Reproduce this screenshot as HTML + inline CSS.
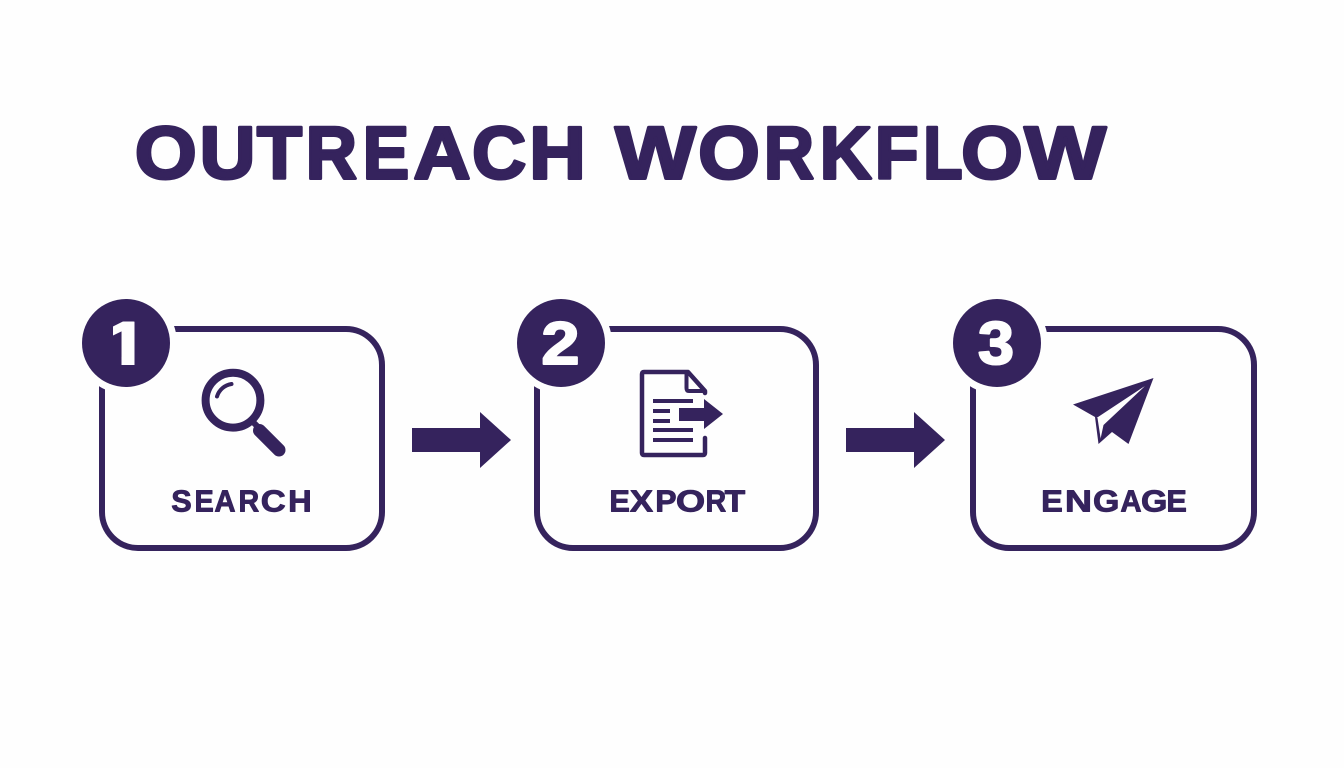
<!DOCTYPE html>
<html><head><meta charset="utf-8"><style>
html,body{margin:0;padding:0;background:#fefefe;width:1344px;height:768px;overflow:hidden}
svg{display:block}
text{font-family:"Liberation Sans",sans-serif;font-weight:700;fill:#35235d;stroke:#35235d;stroke-linejoin:round}
.t text{font-size:74px;stroke-width:3px}
.l text{font-size:31px;stroke-width:.9px}
.d text{font-size:60px;stroke-width:2px;fill:#fefefe;stroke:#fefefe}
</style></head><body>
<svg width="1344" height="768" viewBox="0 0 1344 768" xmlns="http://www.w3.org/2000/svg">
<defs><clipPath id="c1"><polygon points="113,310 134.5,310 134.5,366 121.5,366 121.5,345 113,345"/></clipPath></defs>
<rect width="1344" height="768" fill="#fefefe"/>
<g class="t">
<text x="134.9" y="178.5" textLength="61.8" lengthAdjust="spacingAndGlyphs">O</text>
<text x="199.6" y="178.5" textLength="55.8" lengthAdjust="spacingAndGlyphs">U</text>
<text x="257" y="178.5" textLength="45" lengthAdjust="spacingAndGlyphs">T</text>
<text x="305.8" y="178.5" textLength="51.2" lengthAdjust="spacingAndGlyphs">R</text>
<text x="362.8" y="178.5" textLength="46.4" lengthAdjust="spacingAndGlyphs">E</text>
<text x="413.5" y="178.5" textLength="57" lengthAdjust="spacingAndGlyphs">A</text>
<text x="472.1" y="178.5" textLength="54.1" lengthAdjust="spacingAndGlyphs">C</text>
<text x="529.3" y="178.5" textLength="56.5" lengthAdjust="spacingAndGlyphs">H</text>
<text x="615.3" y="178.5" textLength="80.5" lengthAdjust="spacingAndGlyphs">W</text>
<text x="698.3" y="178.5" textLength="61.5" lengthAdjust="spacingAndGlyphs">O</text>
<text x="763.9" y="178.5" textLength="50.1" lengthAdjust="spacingAndGlyphs">R</text>
<text x="819.7" y="178.5" textLength="51.9" lengthAdjust="spacingAndGlyphs">K</text>
<text x="874.7" y="178.5" textLength="43.9" lengthAdjust="spacingAndGlyphs">F</text>
<text x="923.2" y="178.5" textLength="39.3" lengthAdjust="spacingAndGlyphs">L</text>
<text x="961.3" y="178.5" textLength="61.5" lengthAdjust="spacingAndGlyphs">O</text>
<text x="1024.5" y="178.5" textLength="81.5" lengthAdjust="spacingAndGlyphs">W</text>
</g>
<g fill="none" stroke="#35235d" stroke-width="6">
<rect x="102" y="329" width="280" height="219" rx="36"/>
<rect x="537" y="329" width="279" height="219" rx="36"/>
<rect x="973" y="329" width="281" height="219" rx="36"/>
</g>
<g fill="#fefefe"><circle cx="126" cy="343" r="51"/><circle cx="561" cy="343" r="51"/><circle cx="997" cy="343" r="51"/></g>
<g fill="#35235d"><circle cx="126" cy="343" r="44"/><circle cx="561" cy="343" r="44"/><circle cx="997" cy="343" r="44"/></g>
<g class="d">
<g clip-path="url(#c1)"><text x="104.6" y="364" textLength="43.4" lengthAdjust="spacingAndGlyphs">1</text></g>
<text x="541.4" y="364" textLength="38.1" lengthAdjust="spacingAndGlyphs">2</text>
<text x="978" y="364" textLength="36" lengthAdjust="spacingAndGlyphs">3</text>
</g>
<polygon fill="#35235d" points="412,428 480,428 480,412 511,440 480,468 480,452 412,452"/>
<polygon fill="#35235d" points="846,428 914,428 914,412 945,440 914,468 914,452 846,452"/>
<!-- magnifier -->
<circle cx="233" cy="400.2" r="27.4" fill="none" stroke="#35235d" stroke-width="8"/>
<path d="M217 396.5 A18 18 0 0 1 231.5 384" fill="none" stroke="#35235d" stroke-width="4" stroke-linecap="round"/>
<line x1="252" y1="421" x2="260" y2="429" stroke="#35235d" stroke-width="6"/>
<line x1="259.5" y1="430.5" x2="279" y2="450" stroke="#35235d" stroke-width="13" stroke-linecap="round"/>
<!-- document -->
<path d="M705 393 V391 L688 372 H644 Q642 372 642 374 V453 Q642 455 644 455 H703 Q705 455 705 453 V438" fill="none" stroke="#35235d" stroke-width="4.5" stroke-linecap="round" stroke-linejoin="round"/>
<path d="M686.5 373 V388 Q686.5 391 689 391 H705" fill="none" stroke="#35235d" stroke-width="4"/>
<g fill="#35235d">
<rect x="653" y="399" width="40" height="4"/>
<rect x="653" y="409" width="17" height="4"/>
<rect x="653" y="419" width="17" height="4"/>
<rect x="653" y="428" width="40" height="4"/>
<rect x="653" y="438" width="40" height="4"/>
<polygon points="679,408 704,408 704,399 723,414 704,429 704,421 679,421"/>
</g>
<!-- plane -->
<polygon fill="#35235d" points="1153.5,378 1073,404.5 1095,417 1098.5,444 1112,432 1128.5,444"/>
<polygon fill="#fefefe" points="1145,386 1096.5,418 1100.5,439 1103.5,425"/>
<line x1="1096.5" y1="418" x2="1100" y2="441" stroke="#35235d" stroke-width="2"/>
<g class="l">
<text x="171.3" y="511.3" textLength="20.5" lengthAdjust="spacingAndGlyphs">S</text>
<text x="194.5" y="511.3" textLength="19.3" lengthAdjust="spacingAndGlyphs">E</text>
<text x="214.4" y="511.3" textLength="21.2" lengthAdjust="spacingAndGlyphs">A</text>
<text x="238.5" y="511.3" textLength="20.7" lengthAdjust="spacingAndGlyphs">R</text>
<text x="260.8" y="511.3" textLength="25" lengthAdjust="spacingAndGlyphs">C</text>
<text x="288.2" y="511.3" textLength="23.6" lengthAdjust="spacingAndGlyphs">H</text>
<text x="609.4" y="511.3" textLength="20.5" lengthAdjust="spacingAndGlyphs">E</text>
<text x="629.9" y="511.3" textLength="23.2" lengthAdjust="spacingAndGlyphs">X</text>
<text x="655.3" y="511.3" textLength="21.3" lengthAdjust="spacingAndGlyphs">P</text>
<text x="675.9" y="511.3" textLength="29.3" lengthAdjust="spacingAndGlyphs">O</text>
<text x="705.5" y="511.3" textLength="20.7" lengthAdjust="spacingAndGlyphs">R</text>
<text x="724.7" y="511.3" textLength="20.6" lengthAdjust="spacingAndGlyphs">T</text>
<text x="1041.2" y="511.3" textLength="21.7" lengthAdjust="spacingAndGlyphs">E</text>
<text x="1064.9" y="511.3" textLength="27.2" lengthAdjust="spacingAndGlyphs">N</text>
<text x="1093" y="511.3" textLength="26.4" lengthAdjust="spacingAndGlyphs">G</text>
<text x="1120.4" y="511.3" textLength="21.2" lengthAdjust="spacingAndGlyphs">A</text>
<text x="1141" y="511.3" textLength="26.4" lengthAdjust="spacingAndGlyphs">G</text>
<text x="1166.4" y="511.3" textLength="20.5" lengthAdjust="spacingAndGlyphs">E</text>
</g>
</svg>
</body></html>
